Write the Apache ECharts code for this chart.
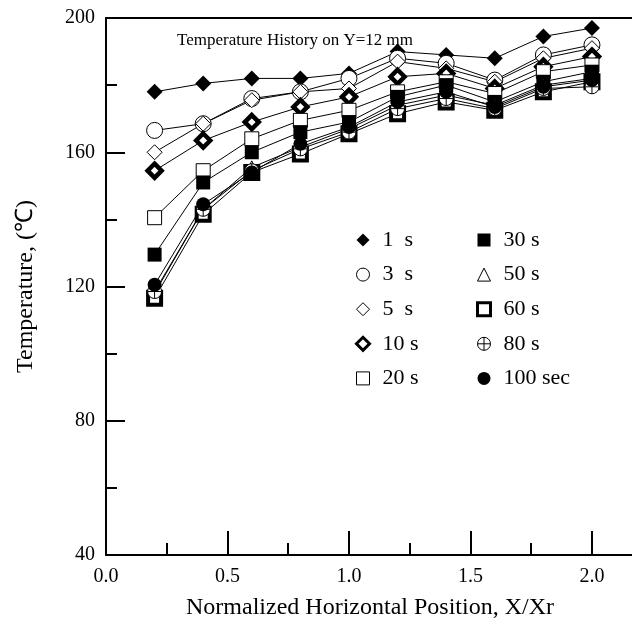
<!DOCTYPE html>
<html>
<head>
<meta charset="utf-8">
<script src="https://cdn.jsdelivr.net/npm/echarts@6/dist/echarts.min.js"></script>
<style>
  html, body { margin: 0; padding: 0; background: #fff; }
  #chart { width: 632px; height: 622px; }
</style>
</head>
<body>
<div id="chart"></div>
<script>
  // x positions (X/Xr)
  var xPos = [0.2, 0.4, 0.6, 0.8, 1.0, 1.2, 1.4, 1.6, 1.8, 2.0];
  // temperatures (C)
  var t1 = [178, 180.5, 182, 182, 183.5, 190, 189, 188, 194.5, 197];
  var t3 = [166.5, 168.5, 176, 178, 182, 188, 186.5, 181.5, 189, 192];
  var t5 = [160, 168.5, 175.5, 178, 179, 187, 185, 181, 188, 191];
  var t10 = [154.5, 163.5, 169, 173.5, 176.5, 182.5, 183.5, 179, 185.5, 188.5];
  var t20 = [140.5, 154.5, 164, 169.5, 172.5, 178, 181, 177.5, 184, 186];
  var t30 = [129.5, 151, 160, 166, 169, 176.5, 180, 175, 181, 184];
  var t50 = [118, 143, 155.5, 161.5, 167, 174, 177, 174, 180, 182];
  var t60 = [116.5, 141.5, 154, 159.5, 165.5, 171.5, 175, 172.5, 178, 181];
  var t80 = [118.5, 143, 154.5, 161, 166, 173, 176, 173, 179, 179.5];
  var t100 = [120.5, 144.5, 154, 162.5, 167.5, 175, 178, 173.5, 179.5, 181.5];

  var names1 = ['1  s', '3  s', '5  s', '10 s', '20 s'];
  var names2 = ['30 s', '50 s', '60 s', '80 s', '100 sec'];

  var serif = 'Liberation Serif';
  var crossCircle = 'path://M10,0A10,10,0,1,1,-10,0A10,10,0,1,1,10,0ZM-10,0L10,0M0,-10L0,10';

  // symbol / style per series
  var styles = [
    {name: '1  s', data: t1, symbol: 'diamond', size: 16, fill: '#000', bw: 0},
    {name: '3  s', data: t3, symbol: 'circle', size: 16, fill: '#fff', bw: 1},
    {name: '5  s', data: t5, symbol: 'diamond', size: 15, fill: '#fff', bw: 1},
    {name: '10 s', data: t10, symbol: 'diamond', size: 14, fill: '#fff', bw: 4.5},
    {name: '20 s', data: t20, symbol: 'rect', size: 14, fill: '#fff', bw: 1},
    {name: '30 s', data: t30, symbol: 'rect', size: 14, fill: '#000', bw: 0},
    {name: '50 s', data: t50, symbol: 'triangle', size: 13, fill: '#fff', bw: 1},
    {name: '60 s', data: t60, symbol: 'rect', size: 13, fill: '#fff', bw: 4},
    {name: '80 s', data: t80, symbol: crossCircle, size: 14, fill: '#fff', bw: 1},
    {name: '100 sec', data: t100, symbol: 'circle', size: 14, fill: '#000', bw: 0}
  ];

  var series = [];
  var styleMap = {};
  styles.forEach(function (s) {
    styleMap[s.name] = s;
    series.push({
      name: s.name,
      type: 'line',
      data: s.data.map(function (v, i) { return [xPos[i], v]; }),
      symbol: s.symbol,
      symbolSize: s.size,
      showAllSymbol: true,
      lineStyle: {color: '#000', width: 1},
      itemStyle: {color: s.fill, borderColor: '#000', borderWidth: s.bw},
      emphasis: {disabled: true},
      animation: false
    });
  });

  function legendData(names) {
    return names.map(function (n) {
      var s = styleMap[n];
      return {
        name: n,
        icon: s.symbol,
        itemStyle: {color: s.fill, borderColor: '#000', borderWidth: s.bw > 1 ? 3 : s.bw}
      };
    });
  }

  var legendCommon = {
    orient: 'vertical',
    padding: 0,
    itemWidth: 13,
    itemHeight: 13,
    itemGap: 12.6,
    textStyle: {fontFamily: serif, fontSize: 22, color: '#000', padding: [0, 0, 0, 8]},
    selectedMode: false
  };

  var chart = echarts.init(document.getElementById('chart'));
  chart.setOption({
    backgroundColor: '#fff',
    animation: false,
    title: {
      text: 'Temperature History on Y=12 mm',
      left: 172,
      top: 27,
      textStyle: {fontFamily: serif, fontSize: 17, fontWeight: 'normal', color: '#000'}
    },
    legend: [
      Object.assign({left: 355, top: 229, data: legendData(names1)}, legendCommon),
      Object.assign({left: 476, top: 229, data: legendData(names2)}, legendCommon)
    ],
    grid: {left: 106, top: 18, right: -2, bottom: 67, containLabel: false, outerBoundsMode: 'none'},
    xAxis: [{
      type: 'value',
      min: 0,
      max: 2.173,
      interval: 0.5,
      name: 'Normalized Horizontal Position, X/Xr',
      nameLocation: 'middle',
      nameGap: 41,
      nameTextStyle: {fontFamily: serif, fontSize: 24, color: '#000'},
      axisLine: {show: true, onZero: false, lineStyle: {color: '#000', width: 2}},
      axisTick: {show: true, inside: true, length: 24, lineStyle: {color: '#000', width: 2}},
      minorTick: {show: true, splitNumber: 2, length: 12, lineStyle: {color: '#000', width: 2}},
      axisLabel: {
        fontFamily: serif, fontSize: 20, color: '#000', margin: 12, showMaxLabel: false,
        formatter: function (v) { return v.toFixed(1); }
      },
      splitLine: {show: false}
    }, {
      type: 'value',
      position: 'top',
      min: 0,
      max: 2.173,
      axisLine: {show: true, lineStyle: {color: '#000', width: 2}},
      axisTick: {show: false},
      axisLabel: {show: false},
      splitLine: {show: false}
    }],
    yAxis: {
      type: 'value',
      min: 40,
      max: 200,
      interval: 40,
      name: 'Temperature, (℃)',
      nameLocation: 'middle',
      nameGap: 68,
      nameRotate: 90,
      nameTextStyle: {fontFamily: serif, fontSize: 24, color: '#000'},
      axisLine: {show: true, lineStyle: {color: '#000', width: 2}},
      axisTick: {show: true, inside: true, length: 19, lineStyle: {color: '#000', width: 2}},
      minorTick: {show: true, splitNumber: 2, length: 11, lineStyle: {color: '#000', width: 2}},
      axisLabel: {fontFamily: serif, fontSize: 20, color: '#000', margin: 11},
      splitLine: {show: false}
    },
    series: series
  });
</script>
</body>
</html>
